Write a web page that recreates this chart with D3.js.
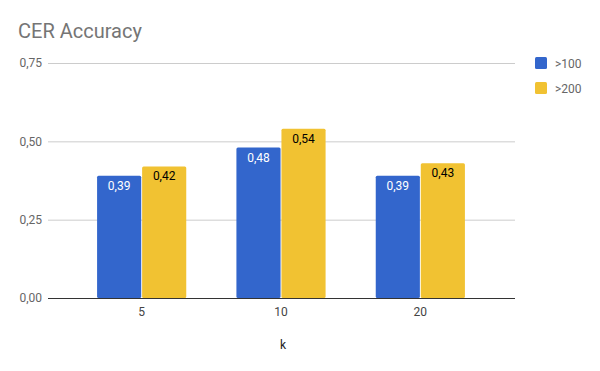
<!DOCTYPE html>
<html lang="en">
<head>
<meta charset="utf-8" />
<title>CER Accuracy</title>
<script src="https://d3js.org/d3.v7.min.js"></script>
<style>
  body { margin: 0; background: #fff; }
  svg { font-family: Roboto, "Noto Sans", sans-serif; }
</style>
</head>
<body>
<script>
// chart data
const categories = ["5", "10", "20"];
const seriesNames = [">100", ">200"];
const over100 = [0.39, 0.48, 0.39];
const over200 = [0.42, 0.54, 0.43];
const yTicks = [0, 0.25, 0.5, 0.75];

const colors = ["#3366cc", "#f1c232"];
const labelColors = ["#ffffff", "#000000"];
const fmt = v => d3.format(".2f")(v).replace(".", ",");

const width = 600, height = 371;
const svg = d3.select("body").append("svg")
    .attr("width", width)
    .attr("height", height);

svg.append("rect").attr("width", width).attr("height", height).attr("fill", "#fff");

// scales
const yScale = d3.scaleLinear().domain([0, 0.75]).range([298, 63]);
const xScale = d3.scaleBand().domain(categories).range([72, 490]).paddingInner(0.36).paddingOuter(0.18);
const inner = d3.scaleBand().domain(seriesNames).range([0, xScale.bandwidth()]).paddingInner(0.02);

// title
svg.append("text")
    .attr("x", 18).attr("y", 38)
    .attr("font-size", 20)
    .attr("fill", "#757575")
    .text("CER Accuracy");

// grid + y labels
const yAxis = d3.axisLeft(yScale).tickValues(yTicks).tickSize(-(515 - 48)).tickFormat(fmt);
const gy = svg.append("g").attr("transform", "translate(48,0)").call(yAxis);
gy.select(".domain").remove();
gy.selectAll(".tick line").attr("stroke", "#cccccc");
gy.selectAll(".tick text").attr("x", -6).attr("fill", "#666").attr("font-size", 12)
    .attr("font-family", "Roboto, sans-serif");

// bars
const rows = categories.map((c, i) => ({ cat: c, vals: [over100[i], over200[i]] }));
const groups = svg.selectAll("g.grp").data(rows).enter().append("g")
    .attr("class", "grp")
    .attr("transform", d => `translate(${xScale(d.cat)},0)`);

groups.selectAll("path.bar")
    .data(d => d.vals.map((v, j) => ({ v, j })))
    .enter().append("rect")
    .attr("class", "bar")
    .attr("x", d => inner(seriesNames[d.j]))
    .attr("y", d => yScale(d.v))
    .attr("width", inner.bandwidth())
    .attr("height", d => yScale(0) - yScale(d.v))
    .attr("rx", 1.5)
    .attr("fill", d => colors[d.j]);

groups.selectAll("text.val")
    .data(d => d.vals.map((v, j) => ({ v, j })))
    .enter().append("text")
    .attr("class", "val")
    .attr("x", d => inner(seriesNames[d.j]) + inner.bandwidth() / 2)
    .attr("y", d => yScale(d.v) + 14)
    .attr("text-anchor", "middle")
    .attr("font-size", 12)
    .attr("fill", d => labelColors[d.j])
    .text(d => fmt(d.v));

// baseline + x labels
const xAxis = d3.axisBottom(xScale).tickSize(0).tickPadding(9);
const gx = svg.append("g").attr("transform", "translate(0,298)").call(xAxis);
gx.select(".domain").remove();
gx.selectAll("text").attr("fill", "#444").attr("font-size", 12).attr("font-family", "Roboto, sans-serif");
svg.append("line").attr("x1", 48).attr("x2", 515).attr("y1", 298.5).attr("y2", 298.5)
    .attr("stroke", "#333").attr("stroke-width", 1);

svg.append("text")
    .attr("x", 283).attr("y", 349)
    .attr("text-anchor", "middle")
    .attr("font-size", 12).attr("fill", "#222")
    .text("k");

// legend
const lg = svg.selectAll("g.lg").data(seriesNames).enter().append("g")
    .attr("class", "lg")
    .attr("transform", (d, i) => `translate(535,${57 + i * 25})`);
lg.append("rect").attr("width", 12).attr("height", 12).attr("rx", 1.5)
    .attr("fill", (d, i) => colors[i]);
lg.append("text").attr("x", 20).attr("y", 10.5)
    .attr("font-size", 12).attr("fill", "#666")
    .text(d => d);
</script>
</body>
</html>
